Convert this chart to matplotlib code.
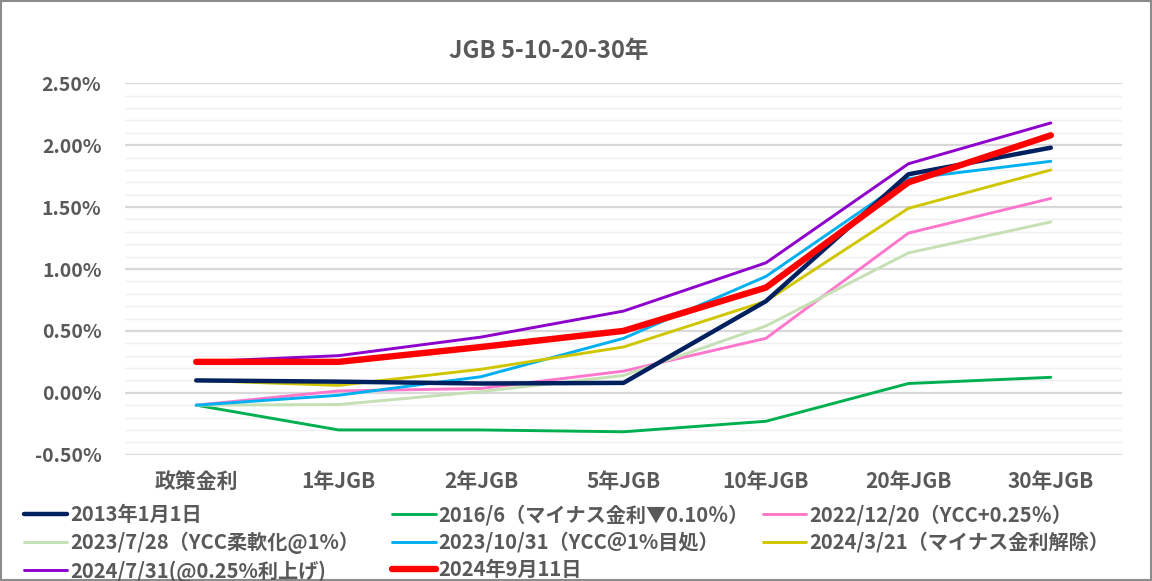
import matplotlib
matplotlib.use('Agg')
import matplotlib.pyplot as plt
from matplotlib.patches import Rectangle
from matplotlib.ticker import MultipleLocator, FuncFormatter

plt.rcParams['font.family'] = ['Noto Sans CJK JP', 'DejaVu Sans']

title = 'JGB 5-10-20-30年'
categories = ['政策金利', '1年JGB', '2年JGB', '5年JGB', '10年JGB', '20年JGB', '30年JGB']

labels = ['2013年1月1日',
          '2016/6（マイナス金利▼0.10％）',
          '2022/12/20（YCC+0.25％）',
          '2023/7/28（YCC柔軟化@1%）',
          '2023/10/31（YCC＠1%目処）',
          '2024/3/21（マイナス金利解除）',
          '2024/7/31(@0.25%利上げ)',
          '2024年9月11日']

y2013 = [0.10, 0.09, 0.075, 0.08, 0.74, 1.765, 1.98]
y2016 = [-0.10, -0.30, -0.30, -0.315, -0.23, 0.075, 0.125]
y2022 = [-0.10, 0.015, 0.035, 0.175, 0.44, 1.29, 1.57]
y2023a = [-0.10, -0.095, 0.01, 0.14, 0.54, 1.13, 1.38]
y2023b = [-0.10, -0.02, 0.13, 0.44, 0.94, 1.73, 1.87]
y2024a = [0.10, 0.06, 0.19, 0.37, 0.74, 1.49, 1.80]
y2024b = [0.25, 0.30, 0.45, 0.66, 1.05, 1.85, 2.18]
y2024c = [0.25, 0.25, 0.37, 0.50, 0.85, 1.70, 2.08]

series = [y2013, y2016, y2022, y2023a, y2023b, y2024a, y2024b, y2024c]
colors = ['#002060', '#00B050', '#FF77CC', '#C5E0B4', '#00B0F0', '#CFC600', '#8E00CC', '#FF0000']
widths = [3.2, 2.1, 2.1, 2.1, 2.1, 2.1, 2.1, 4.6]
# draw order: thin ones first, red on top
zorder = [5, 3, 3, 3, 3, 3, 4, 6]

gray = '#595959'

fig = plt.figure(figsize=(11.52, 5.81), dpi=100)
ax = fig.add_axes([0.1085, 0.2174, 0.8655, 0.6392])

x = list(range(len(categories)))
handles = []
for s, c, w, z, lab in zip(series, colors, widths, zorder, labels):
    h, = ax.plot(x, s, color=c, lw=w, zorder=z, label=lab,
                 solid_capstyle='round', solid_joinstyle='round')
    handles.append(h)

ax.set_xlim(-0.5, len(categories) - 0.5)
ax.set_ylim(-0.5, 2.5)
ax.yaxis.set_major_locator(MultipleLocator(0.5))
ax.yaxis.set_minor_locator(MultipleLocator(0.1))
ax.yaxis.set_major_formatter(FuncFormatter(lambda v, p: '{:.2f}%'.format(v)))
ax.grid(axis='y', which='minor', color='#EFEFEF', lw=1.0, zorder=0)
ax.grid(axis='y', which='major', color='#D9D9D9', lw=1.6, zorder=1)
ax.set_xticks(x)
ax.set_xticklabels(categories)
ax.tick_params(axis='both', which='both', length=0, labelcolor=gray)
ax.tick_params(axis='y', pad=17, labelsize=14)
ax.tick_params(axis='x', pad=12, labelsize=15)
for t in ax.get_xticklabels() + ax.get_yticklabels():
    t.set_fontweight('bold')
for sp in ax.spines.values():
    sp.set_visible(False)

fig.text(0.476, 0.912, title, ha='center', va='center', fontsize=17,
         fontweight='bold', color=gray)

# legend laid out row by row in three fixed columns, like the original
cols = [[0, 3, 6], [1, 4, 7], [2, 5]]
col_x = [0.0205, 0.3405, 0.6625]
for idx, cx in zip(cols, col_x):
    leg = fig.legend([handles[i] for i in idx], [labels[i] for i in idx],
                     loc='upper left', bbox_to_anchor=(cx, 0.132),
                     frameon=False, fontsize=14.5, handlelength=2.15, handletextpad=0.15,
                     labelspacing=0.31, borderpad=0.0, borderaxespad=0.0)
    for t in leg.get_texts():
        t.set_color(gray)
        t.set_fontweight('bold')

fig.patches.append(Rectangle((0.0009, 0.0017), 0.998, 0.996, transform=fig.transFigure,
                             fill=False, edgecolor='#8C8C8C', lw=1.5))

fig.savefig('out.png', dpi=100)
